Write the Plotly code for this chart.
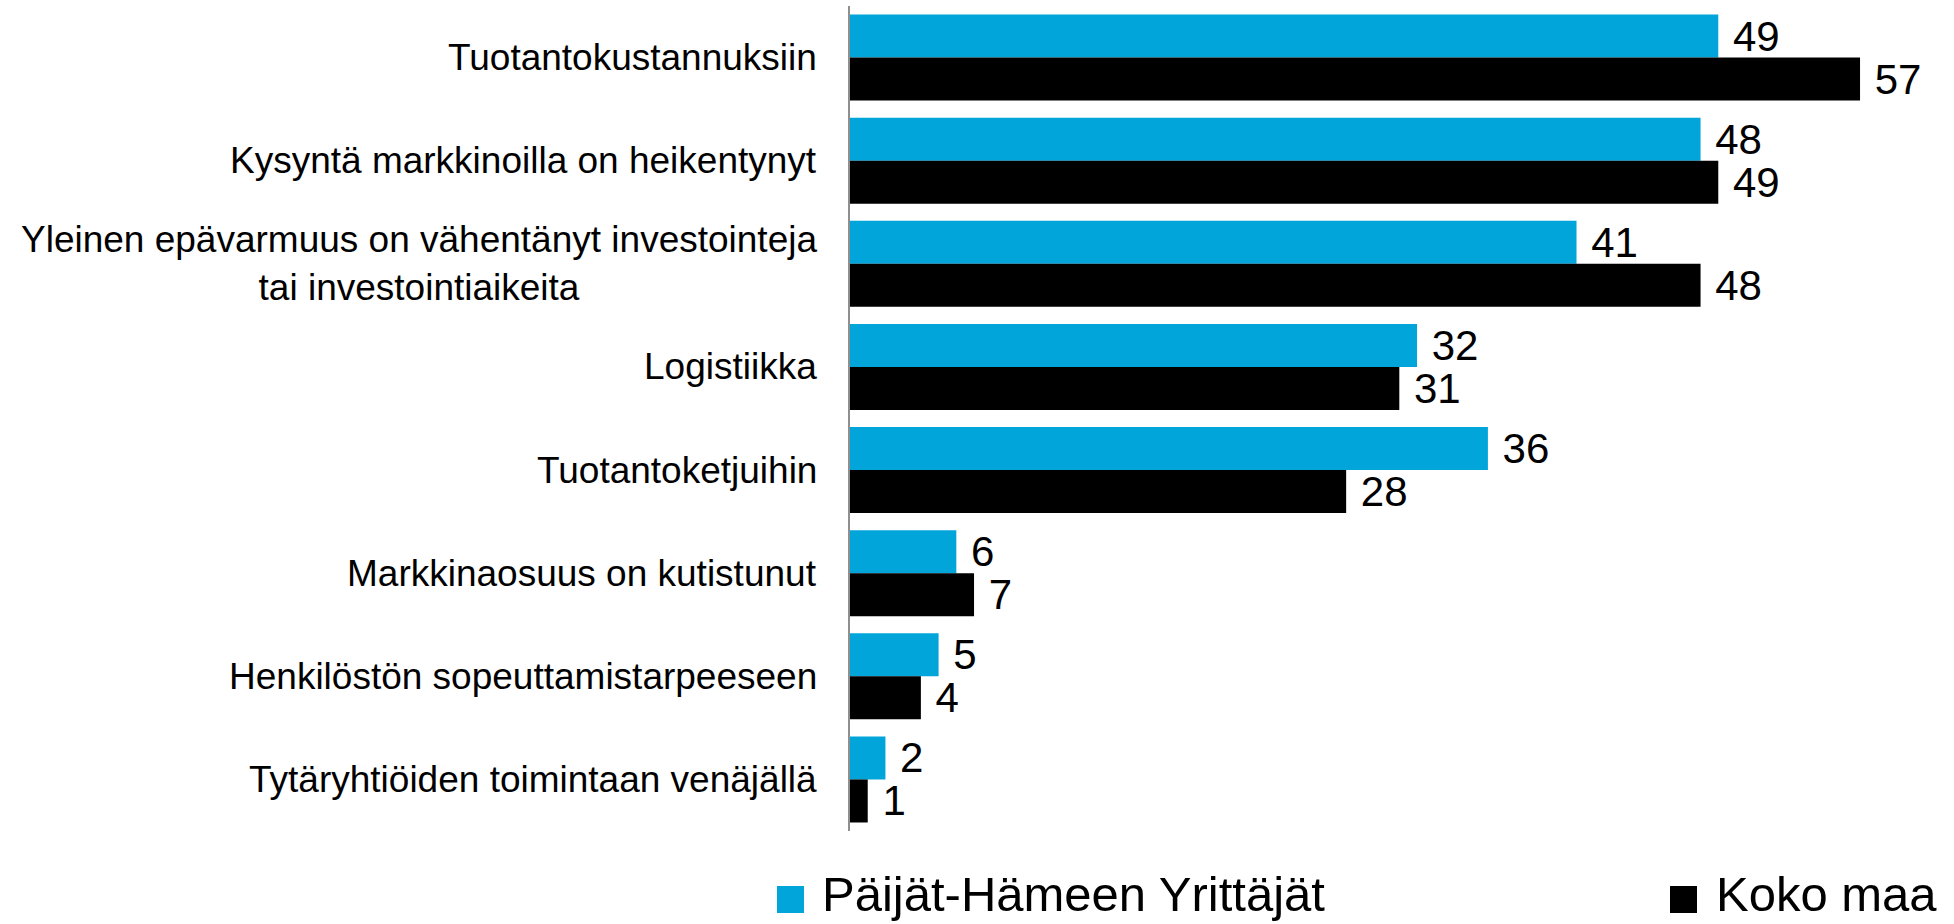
import plotly.graph_objects as go

categories = [
    "Tuotantokustannuksiin",
    "Kysyntä markkinoilla on heikentynyt",
    "Yleinen epävarmuus on vähentänyt investointeja<br>tai investointiaikeita",
    "Logistiikka",
    "Tuotantoketjuihin",
    "Markkinaosuus on kutistunut",
    "Henkilöstön sopeuttamistarpeeseen",
    "Tytäryhtiöiden toimintaan venäjällä",
]
paijat_hame = [49, 48, 41, 32, 36, 6, 5, 2]
koko_maa = [57, 49, 48, 31, 28, 7, 4, 1]
series_names = ["Päijät-Hämeen Yrittäjät", "Koko maa"]

BLUE = "#02A5DA"
BLACK = "#000000"
FONT = "Arial, Liberation Sans, sans-serif"

W, H = 1954, 924
M_L, M_R, M_T, M_B = 850, 10, 6, 93
PW = W - M_L - M_R
PH = H - M_T - M_B


def px_to_paper_x(px):
    return (px - M_L) / PW


def px_to_paper_y(py):
    return (H - M_B - py) / PH


fig = go.Figure()
for name, vals, color in [(series_names[0], paijat_hame, BLUE),
                          (series_names[1], koko_maa, BLACK)]:
    fig.add_trace(go.Bar(
        y=categories,
        x=vals,
        name=name,
        orientation="h",
        marker=dict(color=color, line=dict(width=0)),
        text=[f" {v}" for v in vals],
        textposition="outside",
        textfont=dict(family=FONT, size=42, color="#000000"),
        constraintext="none",
        cliponaxis=False,
        showlegend=False,
    ))

# category labels, centred line by line
annotations = []
for cat in categories:
    annotations.append(dict(
        x=0, xref="paper", y=cat, yref="y",
        xanchor="right", yanchor="middle", xshift=-31,
        text=cat, showarrow=False, align="center",
        font=dict(family=FONT, size=37, color="#000000"),
    ))

# legend drawn below the plot
legend_items = [
    (series_names[0], BLUE, 777, 820),
    (series_names[1], BLACK, 1670, 1714),
]
shapes = []
for name, color, sq_x, txt_x in legend_items:
    shapes.append(dict(
        type="rect", xref="paper", yref="paper",
        x0=px_to_paper_x(sq_x), x1=px_to_paper_x(sq_x + 27),
        y0=px_to_paper_y(913), y1=px_to_paper_y(886),
        fillcolor=color, line=dict(width=0),
    ))
    annotations.append(dict(
        x=px_to_paper_x(txt_x), xref="paper",
        y=px_to_paper_y(894), yref="paper",
        xanchor="left", yanchor="middle",
        text=name, showarrow=False,
        font=dict(family=FONT, size=49, color="#000000"),
    ))

fig.update_layout(
    width=W, height=H,
    margin=dict(l=M_L, r=M_R, t=M_T, b=M_B, pad=0),
    paper_bgcolor="white", plot_bgcolor="white",
    barmode="group", bargap=0.165, bargroupgap=0,
    showlegend=False,
    annotations=annotations,
    shapes=shapes,
    font=dict(family=FONT, color="#000000"),
)
fig.update_xaxes(range=[0, PW / 17.72], visible=False, fixedrange=True)
fig.update_yaxes(
    autorange="reversed",
    showticklabels=False, ticks="",
    showline=True, linecolor="#8f8f8f", linewidth=2,
    showgrid=False, zeroline=False,
)

fig.write_html("out.html")
